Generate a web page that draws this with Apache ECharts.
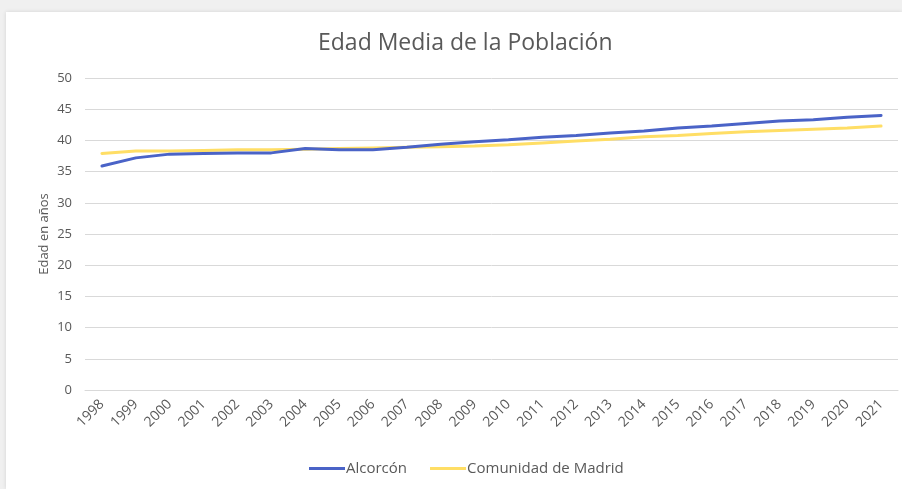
<!DOCTYPE html>
<html>
<head>
<meta charset="utf-8">
<script src="https://cdn.jsdelivr.net/npm/echarts@6/dist/echarts.min.js"></script>
<style>
    html, body { margin: 0; padding: 0; width: 902px; height: 489px; overflow: hidden; background: #f0f0f0; }
    .card { position: absolute; left: 6px; top: 12px; width: 896px; height: 477px; background: #fff; box-shadow: 0 0 4px rgba(0,0,0,0.12); }
    #chart { width: 896px; height: 477px; }
</style>
</head>
<body>
<div class="card"><div id="chart"></div></div>
<script>
/*
|--------------------------------------------------------------------------
| Data
|--------------------------------------------------------------------------
*/

const years = ['1998', '1999', '2000', '2001', '2002', '2003', '2004', '2005', '2006', '2007', '2008', '2009',
    '2010', '2011', '2012', '2013', '2014', '2015', '2016', '2017', '2018', '2019', '2020', '2021'];

const alcorcon = [35.9, 37.2, 37.8, 37.9, 38.0, 38.0, 38.7, 38.5, 38.5, 38.9, 39.4, 39.8,
    40.1, 40.5, 40.8, 41.2, 41.5, 42.0, 42.3, 42.7, 43.1, 43.3, 43.7, 44.0];

const madrid = [37.9, 38.3, 38.3, 38.4, 38.5, 38.5, 38.6, 38.7, 38.8, 38.9, 39.0, 39.1,
    39.3, 39.6, 39.9, 40.2, 40.6, 40.8, 41.1, 41.4, 41.6, 41.8, 42.0, 42.3];

/*
|--------------------------------------------------------------------------
| Chart
|--------------------------------------------------------------------------
*/

const textColor = '#595959';
const fontFamily = "'Open Sans', 'Noto Sans', sans-serif";

const chart = echarts.init(document.getElementById('chart'), null, { renderer: 'canvas' });

chart.setOption({
    animation: false,
    textStyle: { fontFamily, color: textColor },
    title: {
        text: 'Edad Media de la Población',
        left: 307,
        top: 15,
        textStyle: { fontFamily, fontSize: 23, fontWeight: 'normal', color: textColor },
    },
    legend: {
        bottom: 8,
        left: 298,
        itemWidth: 36,
        itemHeight: 3,
        itemGap: 23,
        icon: 'rect',
        textStyle: { fontFamily, fontSize: 15, color: textColor, padding: [0, 0, 0, -4] },
        data: ['Alcorcón', 'Comunidad de Madrid'],
    },
    grid: { left: 79, right: 4, top: 66, bottom: 99 },
    xAxis: {
        type: 'category',
        data: years,
        boundaryGap: true,
        axisLine: { show: true, lineStyle: { color: '#d9d9d9' } },
        axisTick: { show: false },
        axisLabel: { rotate: 45, color: textColor, fontSize: 14, margin: 12, fontFamily },
    },
    yAxis: {
        type: 'value',
        min: 0,
        max: 50,
        interval: 5,
        name: 'Edad en años',
        nameLocation: 'middle',
        nameGap: 34,
        nameMoveOverlap: false,
        nameTextStyle: { color: textColor, fontSize: 13, fontFamily },
        axisLine: { show: false },
        axisTick: { show: false },
        axisLabel: { color: textColor, fontSize: 13, margin: 13, fontFamily },
        splitLine: { lineStyle: { color: '#d9d9d9', width: 1 } },
    },
    series: [
        {
            name: 'Alcorcón',
            type: 'line',
            data: alcorcon,
            symbol: 'none',
            color: '#4A63C7',
            lineStyle: { width: 3, color: '#4A63C7', cap: 'round' },
            z: 3,
        },
        {
            name: 'Comunidad de Madrid',
            type: 'line',
            data: madrid,
            symbol: 'none',
            color: '#FFDE65',
            lineStyle: { width: 3, color: '#FFDE65', cap: 'round' },
            z: 2,
        },
    ],
});
</script>
</body>
</html>
